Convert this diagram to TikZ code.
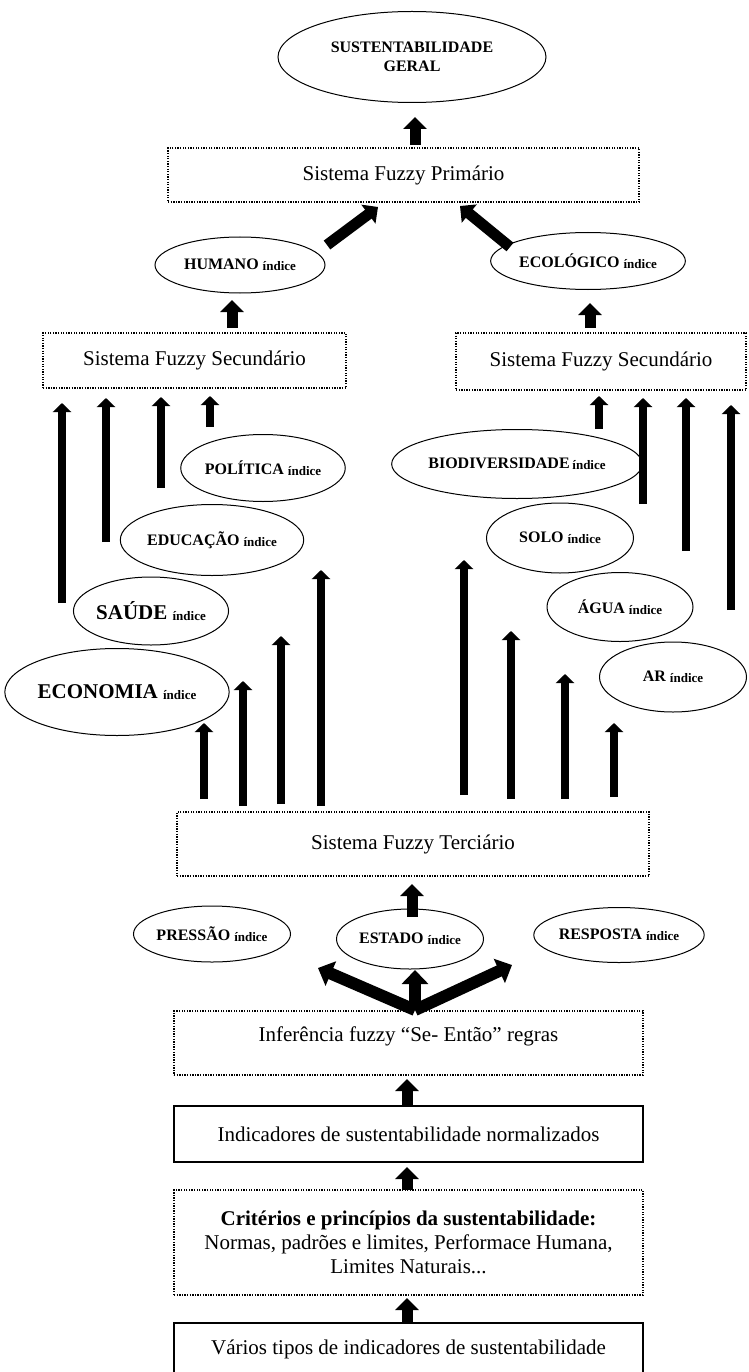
\documentclass[tikz,border=0pt]{standalone}
\usepackage{fontspec}
\setmainfont{Liberation Serif}
\usetikzlibrary{arrows.meta,shapes.geometric}
\newcommand{\idx}{{\fontsize{13}{13}\selectfont\raisebox{-1.5pt}{índice}}}
\begin{document}
\begin{tikzpicture}[x=1pt,y=-1pt,
  fuzzybox/.style={draw, line width=1.3pt, dash pattern=on 1.3pt off 1.3pt,
    inner sep=0pt, font=\fontsize{21}{24}\selectfont, align=center},
  plainbox/.style={draw, line width=1.2pt, inner sep=0pt,
    font=\fontsize{21}{24}\selectfont, align=center},
  oval/.style={ellipse, draw, line width=1pt, inner sep=0pt,
    font=\bfseries\fontsize{16}{18}\selectfont, align=center},
  bigarrow/.style={line width=11pt, -{Triangle[width=23pt,length=12pt]}},
  tallarrow/.style={line width=8pt, -{Triangle[width=18pt,length=9pt]}},
  forkarrow/.style={line width=12pt, -{Triangle[width=26pt,length=14pt]}}
]
\useasboundingbox (0,0) rectangle (748,1372);

% ---------- boxes ----------
\node[fuzzybox, minimum width=471pt, minimum height=54pt] (prim) at (403.5,175) {Sistema Fuzzy Primário};
\node[fuzzybox, minimum width=303pt, minimum height=55pt] (secL) at (194.5,360.5) {Sistema Fuzzy Secundário};
\node[fuzzybox, minimum width=290pt, minimum height=57pt] (secR) at (601,361.5) {Sistema Fuzzy Secundário};
\node[fuzzybox, minimum width=472pt, minimum height=64pt] (terc) at (413,844) {Sistema Fuzzy Terciário};
\node[fuzzybox, minimum width=469pt, minimum height=64pt] (infer) at (408.5,1043)
  {\raisebox{7pt}[\height][\depth]{Inferência fuzzy “Se- Então” regras}};
\node[plainbox, minimum width=469pt, minimum height=56pt] (norm) at (408.5,1134) {Indicadores de sustentabilidade normalizados};
\node[fuzzybox, minimum width=469pt, minimum height=105pt] (crit) at (408.5,1242.5)
  {\textbf{Critérios e princípios da sustentabilidade:}\\Normas, padrões e limites, Performace Humana,\\Limites Naturais...};
\node[plainbox, minimum width=469pt, minimum height=53pt] (varios) at (408.5,1349.5) {Vários tipos de indicadores de sustentabilidade};

% ---------- ellipses ----------
\node[oval, font=\bfseries\fontsize{16}{19}\selectfont, minimum width=268pt, minimum height=91pt] (geral) at (412,57) {SUSTENTABILIDADE\\GERAL};
\node[oval, minimum width=170pt, minimum height=56pt] (hum) at (240,265) {HUMANO \idx};
\node[oval, minimum width=176pt, minimum height=57pt] (eco) at (588,261) {ECOLÓGICO \idx};
\node[oval, minimum width=146pt, minimum height=67pt] (pol) at (263,468) {POLÍTICA \idx};
\node[oval, minimum width=167pt, minimum height=71pt] (edu) at (212,540) {EDUCAÇÃO \idx};
\node[oval, font=\bfseries\fontsize{21}{23}\selectfont, minimum width=147pt, minimum height=68pt] (sau) at (151,611) {SAÚDE \idx};
\node[oval, font=\bfseries\fontsize{21}{23}\selectfont, minimum width=208pt, minimum height=87pt] (econ) at (117,692) {ECONOMIA \idx};
\node[oval, minimum width=225pt, minimum height=69pt] (bio) at (517,464) {BIODIVERSIDADE\,\idx};
\node[oval, minimum width=147pt, minimum height=70pt] (solo) at (560,538) {SOLO \idx};
\node[oval, minimum width=146pt, minimum height=69pt] (agua) at (620,607) {ÁGUA \idx};
\node[oval, minimum width=147pt, minimum height=70pt] (ar) at (673,677) {AR \idx};
\node[oval, minimum width=146pt, minimum height=56pt] (pres) at (212,934) {PRESSÃO \idx};
\node[oval, minimum width=147pt, minimum height=60pt] (est) at (410,939) {ESTADO \idx};
\node[oval, minimum width=165pt, minimum height=55pt] (resp) at (619,935) {RESPOSTA \idx};

% ---------- arrow end points ----------
\coordinate (a1s) at (415,145);  \coordinate (a1t) at (415,117);
\coordinate (dhs) at (327,245);  \coordinate (dht) at (378,207);
\coordinate (des) at (510,247);  \coordinate (det) at (460,206);
\coordinate (hs) at (232,328);   \coordinate (ht) at (232,300);
\coordinate (es) at (590,328);   \coordinate (et) at (590,303);
% into the left secondary system
\coordinate (l1s) at (62,603);   \coordinate (l1t) at (62,403);
\coordinate (l2s) at (106,542);  \coordinate (l2t) at (106,398);
\coordinate (l3s) at (161,488);  \coordinate (l3t) at (161,397);
\coordinate (l4s) at (210,427);  \coordinate (l4t) at (210,396);
% into the right secondary system
\coordinate (r1s) at (599,429);  \coordinate (r1t) at (599,396);
\coordinate (r2s) at (643,504);  \coordinate (r2t) at (643,398);
\coordinate (r3s) at (686,551);  \coordinate (r3t) at (686,398);
\coordinate (r4s) at (731,610);  \coordinate (r4t) at (731,405);
% out of the tertiary system
\coordinate (t1s) at (204,799);  \coordinate (t1t) at (204,723);
\coordinate (t2s) at (243,806);  \coordinate (t2t) at (243,681);
\coordinate (t3s) at (281,804);  \coordinate (t3t) at (281,636);
\coordinate (t4s) at (321,806);  \coordinate (t4t) at (321,570);
\coordinate (t5s) at (464,795);  \coordinate (t5t) at (464,560);
\coordinate (t6s) at (511,799);  \coordinate (t6t) at (511,631);
\coordinate (t7s) at (565,799);  \coordinate (t7t) at (565,674);
\coordinate (t8s) at (614,797);  \coordinate (t8t) at (614,723);
% lower chain
\coordinate (sts) at (412,917);  \coordinate (stt) at (412,884);
\coordinate (fk) at (415,1010);
\coordinate (fkl) at (318,968);  \coordinate (fkm) at (415,970);  \coordinate (fkr) at (512,965);
\coordinate (n1s) at (407,1106); \coordinate (n1t) at (407,1079);
\coordinate (n2s) at (407,1190); \coordinate (n2t) at (407,1167);
\coordinate (n3s) at (407,1323); \coordinate (n3t) at (407,1298);

% ---------- arrows ----------
\draw[bigarrow] (a1s) -- (a1t);
\draw[bigarrow] (dhs) -- (dht);
\draw[bigarrow] (des) -- (det);
\draw[bigarrow] (hs) -- (ht);
\draw[bigarrow] (es) -- (et);
\foreach \p in {l1,l2,l3,l4,r1,r2,r3,r4,t1,t2,t3,t4,t5,t6,t7,t8}
  \draw[tallarrow] (\p s) -- (\p t);
\draw[bigarrow] (sts) -- (stt);
\draw[forkarrow] (fk) -- (fkl);
\draw[forkarrow] (fk) -- (fkr);
\draw[forkarrow] (fk) -- (fkm);
\draw[bigarrow] (n1s) -- (n1t);
\draw[bigarrow] (n2s) -- (n2t);
\draw[bigarrow] (n3s) -- (n3t);
\end{tikzpicture}
\end{document}
